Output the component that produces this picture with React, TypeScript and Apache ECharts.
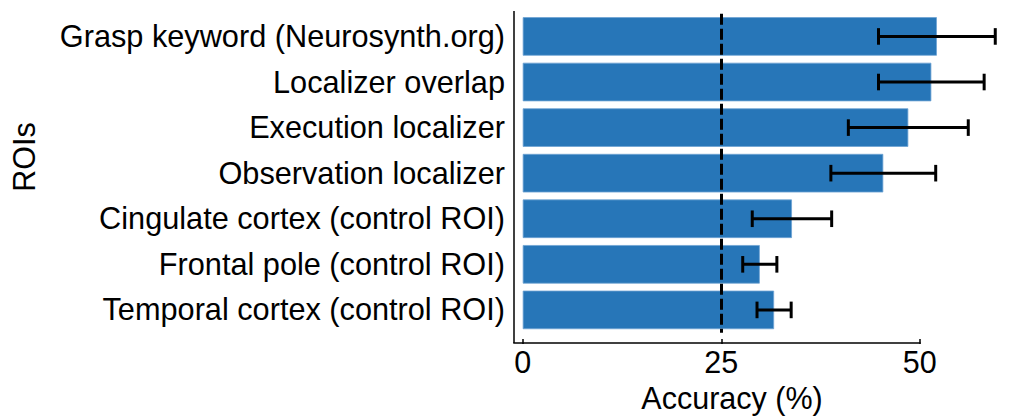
import React, { useEffect, useRef } from "react";
import * as echarts from "echarts";

const categories = [
  "Grasp keyword (Neurosynth.org)",
  "Localizer overlap",
  "Execution localizer",
  "Observation localizer",
  "Cingulate cortex (control ROI)",
  "Frontal pole (control ROI)",
  "Temporal cortex (control ROI)",
];
const accuracyMeans = [52.15, 51.45, 48.55, 45.4, 33.9, 29.85, 31.65];
const accuracyErrors = [7.35, 6.65, 7.55, 6.6, 5.0, 2.15, 2.15];
const chanceLevel = 25;
const xTicks = [0, 25, 50];

const FONT = "'Liberation Sans', Arial, Helvetica, sans-serif";

export default function App() {
  const ref = useRef<HTMLDivElement>(null);
  useEffect(() => {
    if (!ref.current) return;
    const chart = echarts.init(ref.current, undefined, { renderer: "svg" });
    const gridTop = 13.65;
    const gridHeight = 322.9;
    const axisOffset = 6.4;
    const xMin = -1.1;
    const errData = categories.map((_, i) => [
      i,
      accuracyMeans[i] - accuracyErrors[i],
      accuracyMeans[i] + accuracyErrors[i],
    ]);
    chart.setOption({
      animation: false,
      textStyle: { fontFamily: FONT },
      grid: { left: 514, top: gridTop, width: 436, height: gridHeight, containLabel: false },
      xAxis: {
        type: "value",
        min: xMin,
        max: 53.8,
        offset: axisOffset,
        axisLine: { show: false },
        splitLine: { show: false },
        axisTick: {
          show: true,
          customValues: xTicks,
          length: 5,
          lineStyle: { color: "#000", width: 1.5 },
        },
        axisLabel: {
          customValues: xTicks,
          fontSize: 30.5,
          color: "#000",
          margin: 7,
          fontFamily: FONT,
        },
        name: "Accuracy (%)",
        nameLocation: "middle",
        nameGap: 34,
        nameTextStyle: { fontSize: 30.5, color: "#000", fontFamily: FONT, verticalAlign: "top" },
      },
      yAxis: {
        type: "category",
        inverse: true,
        data: categories,
        axisLine: { show: false },
        axisTick: { show: false },
        splitLine: { show: false },
        axisLabel: { fontSize: 30.7, color: "#000", margin: 9, fontFamily: FONT },
      },
      series: [
        {
          type: "bar",
          z: 2,
          data: accuracyMeans,
          barWidth: "84.6%",
          itemStyle: { color: "#2776b8", borderColor: "#6fa3d3", borderWidth: 0.8 },
          markLine: {
            silent: true,
            z: 4,
            symbol: "none",
            label: { show: false },
            lineStyle: { color: "#000", width: 3, type: [11, 4] },
            data: [{ xAxis: chanceLevel }],
          },
        },
        {
          type: "custom",
          z: 5,
          clip: false,
          data: errData,
          encode: { x: [1, 2], y: 0 },
          renderItem: (params: any, api: any) => {
            const idx = api.value(0);
            const lo = api.coord([api.value(1), idx]);
            const hi = api.coord([api.value(2), idx]);
            const cap = 8.3;
            const style = { stroke: "#000", lineWidth: 3 };
            return {
              type: "group",
              children: [
                { type: "line", shape: { x1: lo[0], y1: lo[1], x2: hi[0], y2: hi[1] }, style },
                { type: "line", shape: { x1: lo[0], y1: lo[1] - cap, x2: lo[0], y2: lo[1] + cap }, style },
                { type: "line", shape: { x1: hi[0], y1: hi[1] - cap, x2: hi[0], y2: hi[1] + cap }, style },
              ],
            };
          },
        },
      ],
    });
    const xl = chart.convertToPixel({ xAxisIndex: 0 }, xMin) as number;
    const x50 = chart.convertToPixel({ xAxisIndex: 0 }, 50) as number;
    const axisY = gridTop + gridHeight + axisOffset;
    chart.setOption({
      graphic: [
        {
          type: "line",
          shape: { x1: xl, y1: 11, x2: xl, y2: axisY },
          style: { stroke: "#000", lineWidth: 1.5 },
        },
        {
          type: "line",
          shape: { x1: xl - 0.75, y1: axisY, x2: x50 + 0.75, y2: axisY },
          style: { stroke: "#000", lineWidth: 1.5 },
        },
        {
          type: "text",
          x: 24,
          y: 157,
          rotation: Math.PI / 2,
          style: {
            text: "ROIs",
            fontSize: 30.5,
            fontFamily: FONT,
            fill: "#000",
            align: "center",
            verticalAlign: "middle",
          },
        },
      ],
    });
    return () => chart.dispose();
  }, []);
  return (
    <div
      ref={ref}
      style={{ position: "absolute", left: 0, top: 0, width: 1009, height: 418 }}
    />
  );
}
